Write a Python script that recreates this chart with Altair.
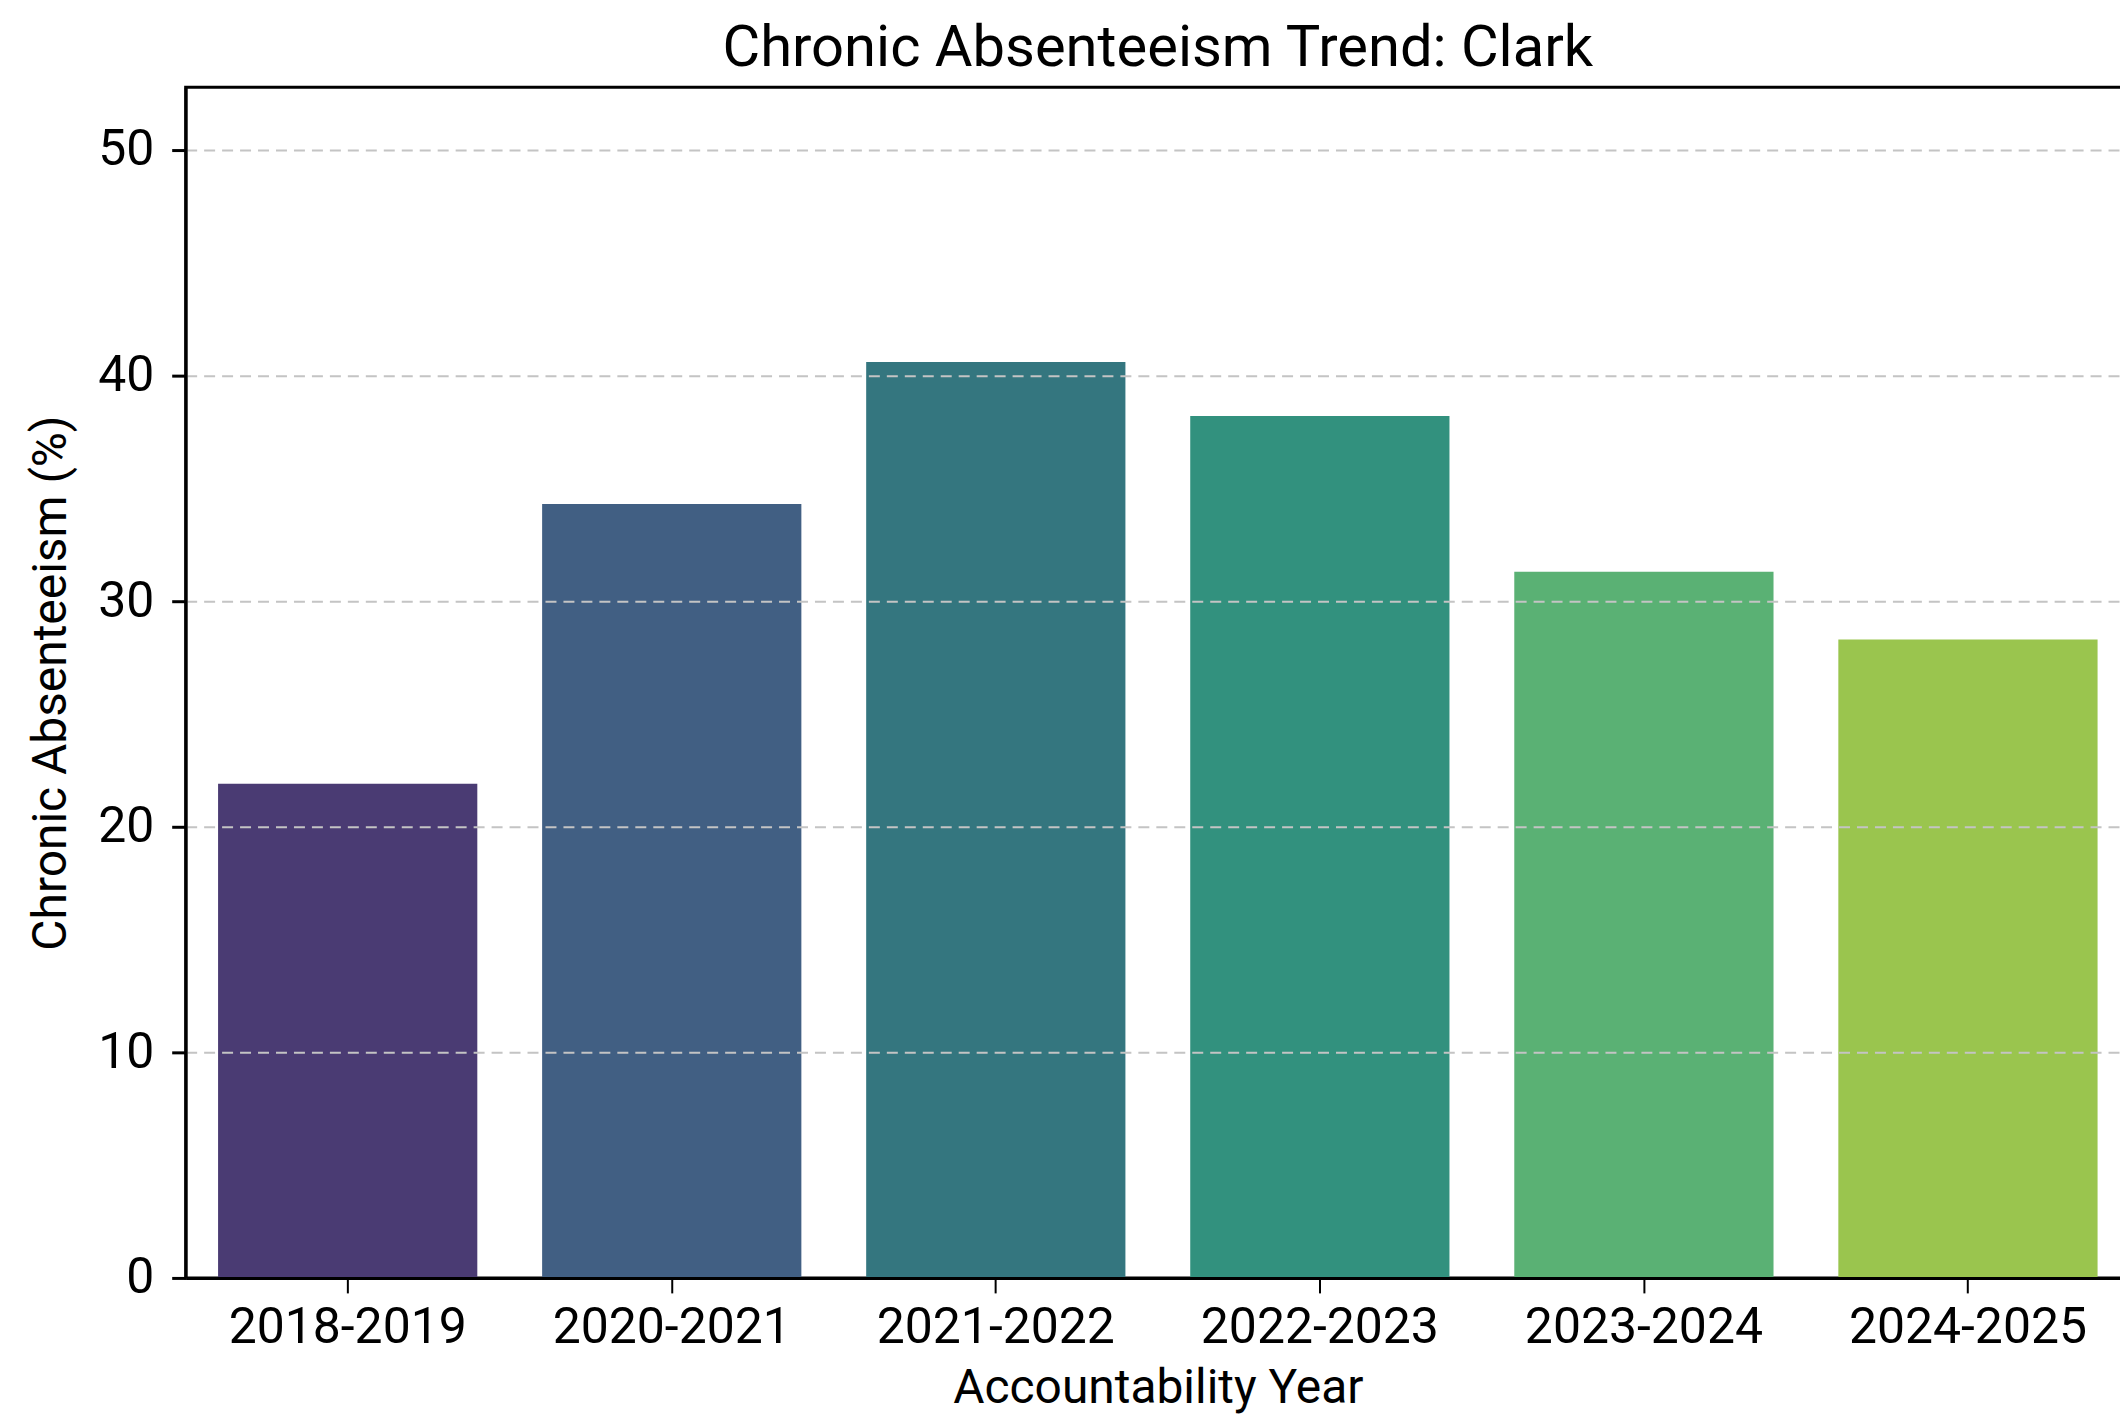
import altair as alt
import pandas as pd

years = ["2018-2019", "2020-2021", "2021-2022", "2022-2023", "2023-2024", "2024-2025"]
values = [21.9, 34.3, 40.6, 38.2, 31.3, 28.3]
bar_colors = ["#4a3b73", "#415f83", "#34767f", "#32917e", "#5ab174", "#9ac54e"]
y_ticks = [0, 10, 20, 30, 40, 50]

df = pd.DataFrame({"year": years, "value": values})
ymax = max(values) * 1.3

FONT = "Roboto"

chart = alt.Chart(df).mark_bar().encode(
    x=alt.X(
        "year:N",
        sort=years,
        title="Accountability Year",
        scale=alt.Scale(paddingInner=0.2, paddingOuter=0.1),
        axis=alt.Axis(
            labelAngle=0,
            labelFontSize=50,
            labelFont=FONT,
            labelColor="#000000",
            labelLimit=0,
            labelPadding=10,
            titleFontSize=48,
            titleFont=FONT,
            titleFontWeight="normal",
            titleColor="#000000",
            titlePadding=12,
            tickSize=15,
            tickWidth=2,
            tickColor="#000000",
            domainColor="#000000",
            domainWidth=3,
            grid=False,
            zindex=2,
        ),
    ),
    y=alt.Y(
        "value:Q",
        title="Chronic Absenteeism (%)",
        scale=alt.Scale(domain=[0, ymax], nice=False),
        axis=alt.Axis(
            values=y_ticks,
            labelFontSize=50,
            labelFont=FONT,
            labelColor="#000000",
            labelPadding=18,
            titleFontSize=48,
            titleFont=FONT,
            titleFontWeight="normal",
            titleColor="#000000",
            titlePadding=22,
            tickSize=14,
            tickWidth=3,
            tickColor="#000000",
            domainColor="#000000",
            domainWidth=3,
            grid=True,
            gridColor="#c4c4c4",
            gridWidth=2,
            gridDash=[11, 7],
            zindex=1,
        ),
    ),
    color=alt.Color("year:N", scale=alt.Scale(domain=years, range=bar_colors), legend=None),
).properties(
    width=1948,
    height=1193,
    title=alt.TitleParams(
        "Chronic Absenteeism Trend: Clark",
        fontSize=58,
        font=FONT,
        fontWeight="normal",
        color="#000000",
        anchor="middle",
        offset=9,
    ),
    autosize=alt.AutoSizeParams(type="none"),
    padding={"left": 178, "top": 78, "right": -10, "bottom": 137},
).configure(
    background="#ffffff",
    view=alt.ViewConfig(stroke="#000000", strokeWidth=3),
)

chart.save("out.html", embed_options={"renderer": "svg", "actions": False})
